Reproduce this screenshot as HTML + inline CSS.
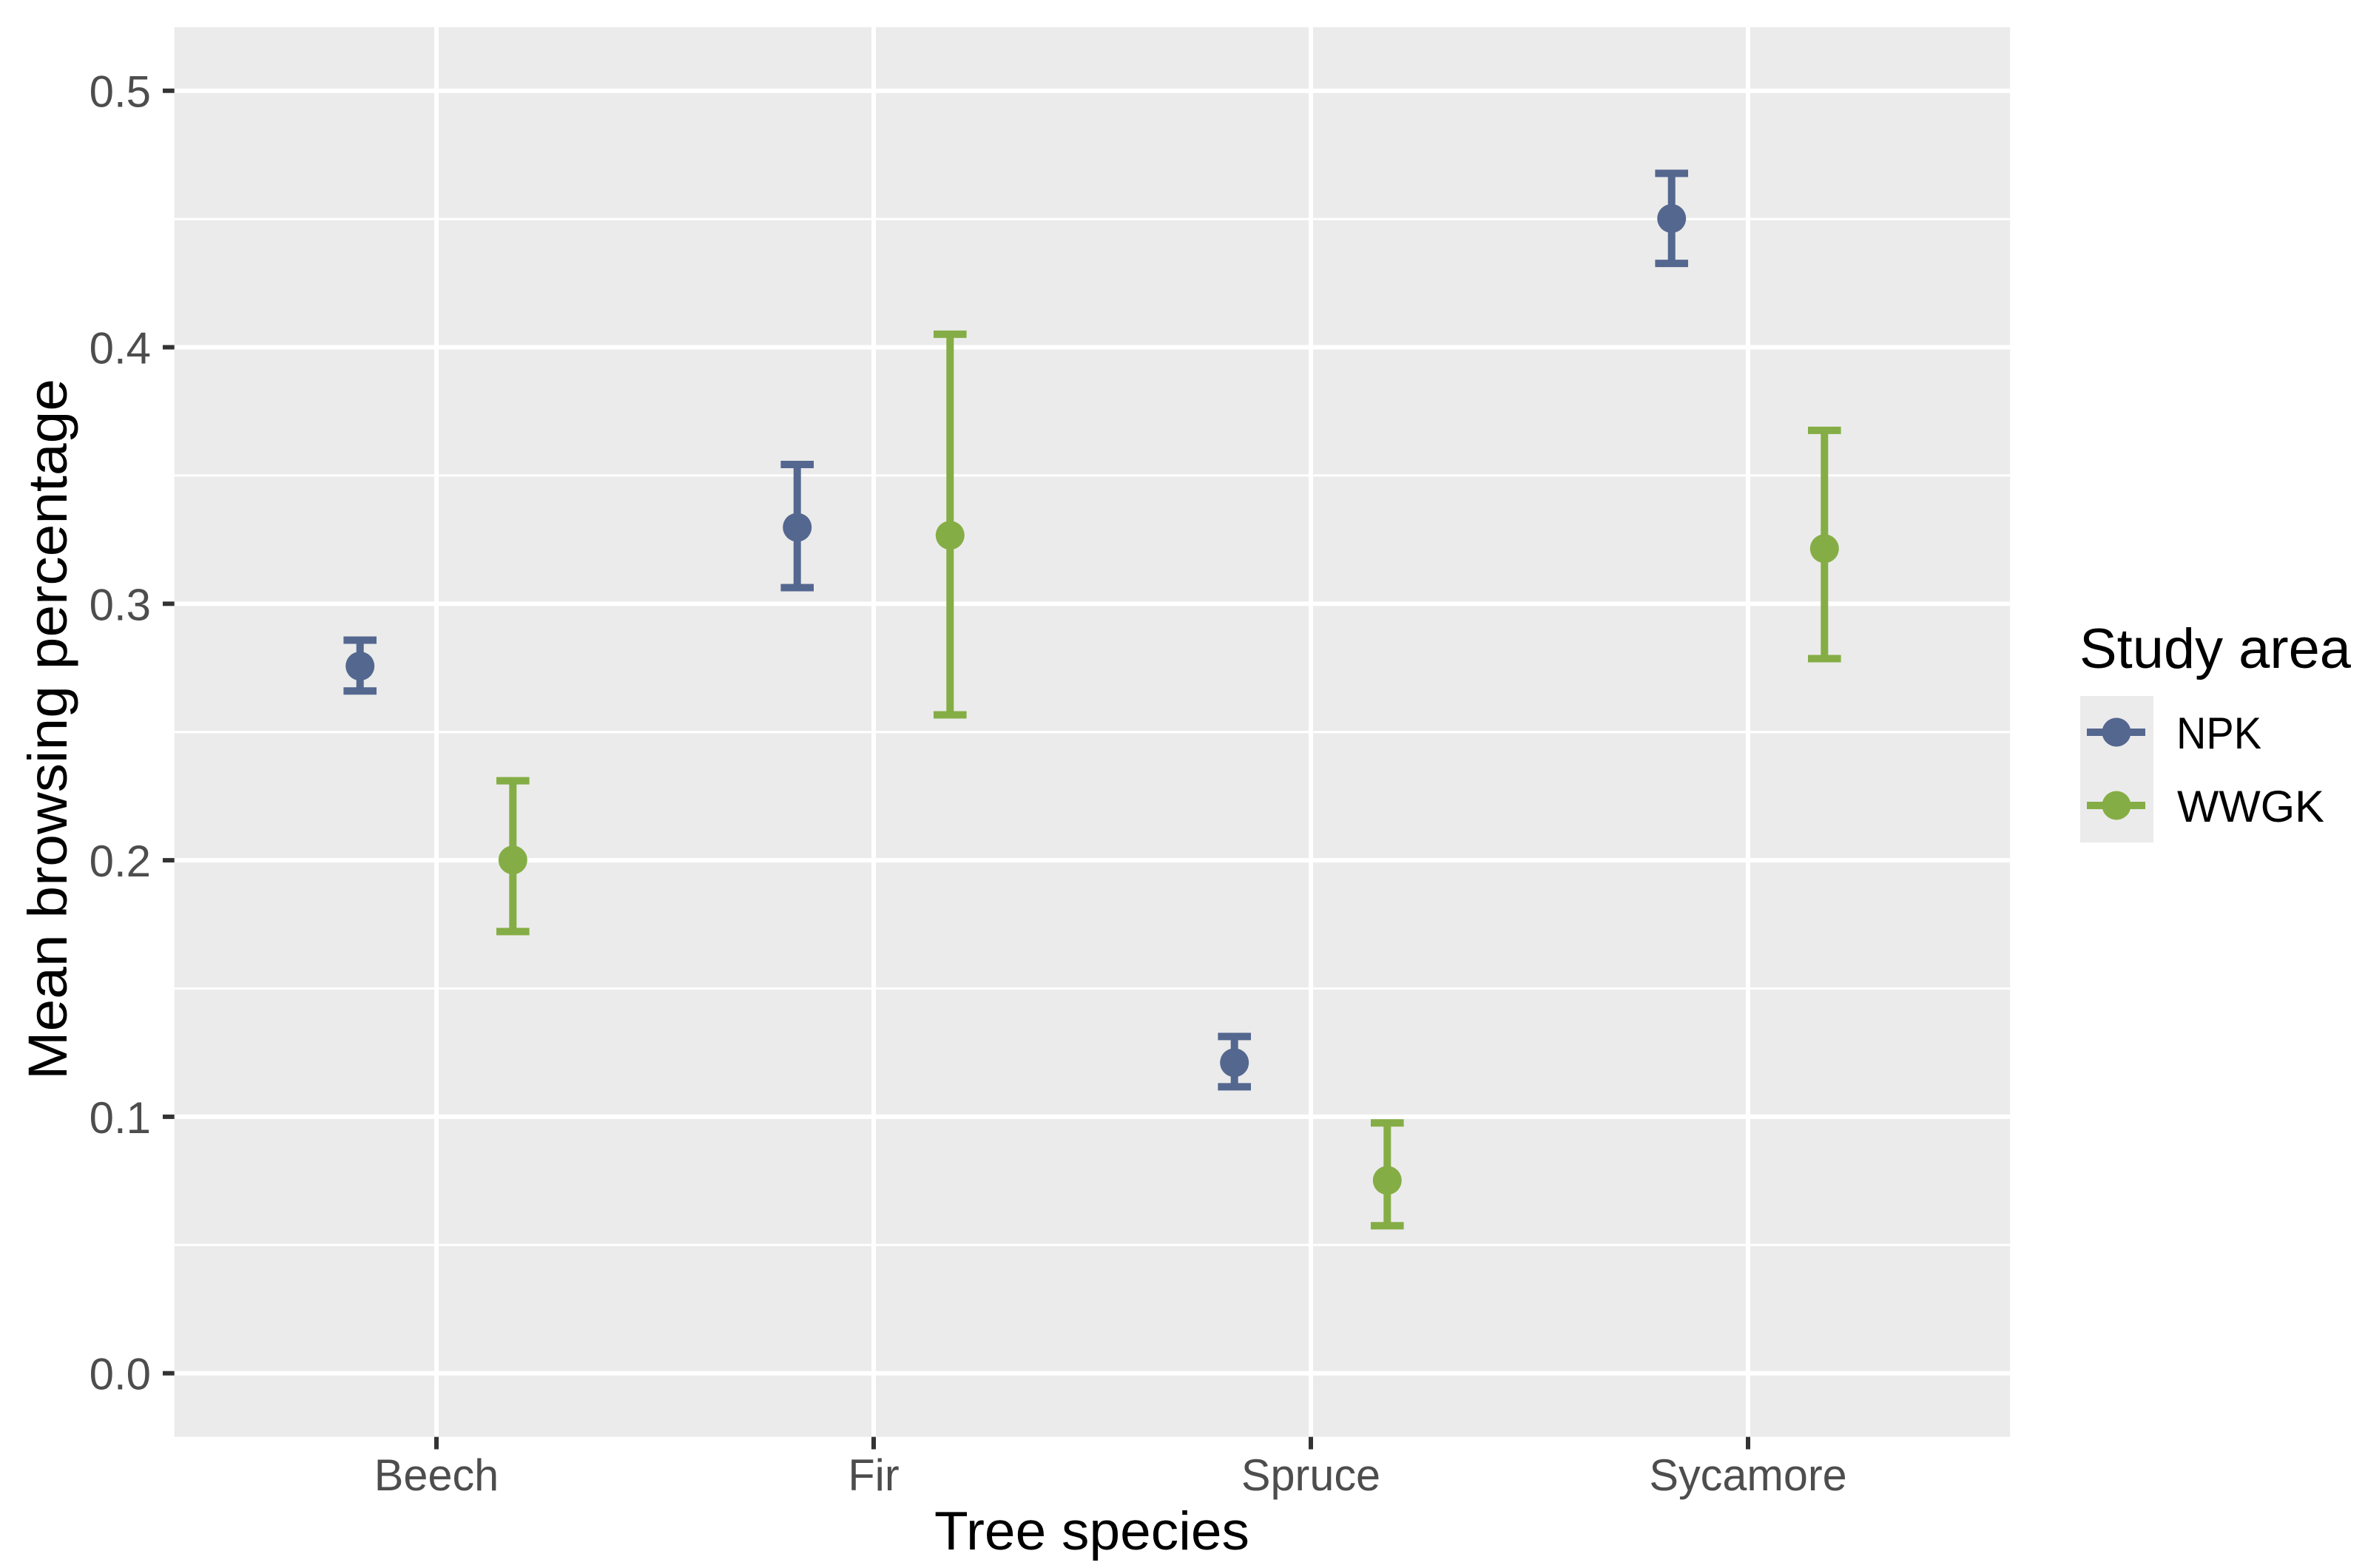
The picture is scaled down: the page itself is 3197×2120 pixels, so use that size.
<!DOCTYPE html>
<html lang="en">
<head>
<meta charset="utf-8">
<title>Mean browsing percentage by tree species</title>
<style>
html,body{margin:0;padding:0;background:#fff;}
svg{display:block;}
text{font-family:"Liberation Sans",sans-serif;}
</style>
</head>
<body>
<svg id="chart" xmlns="http://www.w3.org/2000/svg" width="3197" height="2120" viewBox="0 0 3197 2120">
  <rect x="0" y="0" width="3197" height="2120" fill="#ffffff"/>
  <rect x="235.7" y="36.7" width="2481.6" height="1906" fill="#ebebeb"/>
  <g id="grid"></g>
  <g id="ticks"></g>
  <g id="marks"></g>
  <g id="labels"></g>
  <text x="1263" y="2095" font-size="73" fill="#000" textLength="426" lengthAdjust="spacingAndGlyphs">Tree species</text>
  <text transform="translate(90,1460) rotate(-90)" font-size="74" fill="#000" textLength="948" lengthAdjust="spacingAndGlyphs">Mean browsing percentage</text>
  <g>
    <text x="2811" y="903" font-size="76" fill="#000" textLength="367" lengthAdjust="spacingAndGlyphs">Study area</text>
    <rect x="2812" y="941" width="99" height="198" fill="#ebebeb"/>
    <g>
      <rect x="2821" y="985" width="79" height="10" fill="#54678f"/>
      <circle cx="2861" cy="990" r="19.5" fill="#54678f"/>
      <text x="2942" y="1012" font-size="60" fill="#000" textLength="115" lengthAdjust="spacingAndGlyphs">NPK</text>
    </g>
    <g>
      <rect x="2821" y="1084" width="79" height="10" fill="#85ad45"/>
      <circle cx="2861" cy="1089" r="19.5" fill="#85ad45"/>
      <text x="2943" y="1111" font-size="60" fill="#000" textLength="199" lengthAdjust="spacingAndGlyphs">WWGK</text>
    </g>
  </g>
</svg>
<script>
const categories = ['Beech', 'Fir', 'Spruce', 'Sycamore'];
const yTickValues = [0, 0.1, 0.2, 0.3, 0.4, 0.5];
const yTickLabels = ['0.0', '0.1', '0.2', '0.3', '0.4', '0.5'];
const yMinorValues = [0.05, 0.15, 0.25, 0.35, 0.45];
const npkMean = [0.2757, 0.3298, 0.1211, 0.4502];
const npkUpper = [0.2858, 0.3543, 0.1313, 0.4678];
const npkLower = [0.2660, 0.3063, 0.1117, 0.4327];
const wwgkMean = [0.2001, 0.3267, 0.0752, 0.3215];
const wwgkUpper = [0.2310, 0.4051, 0.0976, 0.3676];
const wwgkLower = [0.1722, 0.2567, 0.0575, 0.2786];

const NS = 'http://www.w3.org/2000/svg';
const PANEL = {left: 235.7, right: 2717.3, top: 36.7, bottom: 1942.7};
function xScale(i) { return 590 + i * 591; }
function yScale(v) { return 1856.7 - 3468 * v; }
function make(tag, parent, attrs) {
  const el = document.createElementNS(NS, tag);
  for (const k in attrs) el.setAttribute(k, attrs[k]);
  parent.appendChild(el);
  return el;
}
const grid = document.getElementById('grid');
const ticks = document.getElementById('ticks');
const marks = document.getElementById('marks');
const labels = document.getElementById('labels');

yMinorValues.forEach(function (v) {
  const line = make('line', grid, {x1: PANEL.left, x2: PANEL.right, y1: yScale(v), y2: yScale(v), stroke: '#ffffff', 'stroke-width': 3});
  
  
});
yTickValues.forEach(function (v, i) {
  const y = yScale(v);
  const line = make('line', grid, {x1: PANEL.left, x2: PANEL.right, y1: y, y2: y, stroke: '#ffffff', 'stroke-width': 6});
  
  
  const tick = make('line', ticks, {x1: 220, x2: PANEL.left, y1: y, y2: y, stroke: '#333333', 'stroke-width': 6});
  
  
  const label = make('text', labels, {x: 204, y: y + 22, 'text-anchor': 'end', 'font-size': 60, fill: '#4d4d4d'});
  
  
  label.textContent = yTickLabels[i];
});
categories.forEach(function (name, i) {
  const x = xScale(i);
  const line = make('line', grid, {x1: x, x2: x, y1: PANEL.top, y2: PANEL.bottom, stroke: '#ffffff', 'stroke-width': 6});
  
  
  const tick = make('line', ticks, {x1: x, x2: x, y1: PANEL.bottom, y2: 1959.5, stroke: '#333333', 'stroke-width': 6});
  
  
  const label = make('text', labels, {transform: 'translate(' + x + ',2015) scale(0.99,1)', 'text-anchor': 'middle', 'font-size': 60, fill: '#4d4d4d'});
  
  
  label.textContent = name;
});

function drawSeries(seriesName, color, offset, means, uppers, lowers) {
  categories.forEach(function (name, i) {
    const x = xScale(i) + offset;
    const g = make('g', marks, {});
    
    
    const stem = make('line', g, {x1: x, x2: x, y1: yScale(uppers[i]), y2: yScale(lowers[i]), stroke: color, 'stroke-width': 10});
    
    
    const capTop = make('line', g, {x1: x - 22.3, x2: x + 22.3, y1: yScale(uppers[i]), y2: yScale(uppers[i]), stroke: color, 'stroke-width': 10});
    
    
    const capBottom = make('line', g, {x1: x - 22.3, x2: x + 22.3, y1: yScale(lowers[i]), y2: yScale(lowers[i]), stroke: color, 'stroke-width': 10});
    
    
    const point = make('circle', g, {cx: x, cy: yScale(means[i]), r: 19.5, fill: color});
    
    
  });
}
drawSeries('npk', '#54678f', -103.3, npkMean, npkUpper, npkLower);
drawSeries('wwgk', '#85ad45', 103.3, wwgkMean, wwgkUpper, wwgkLower);
</script>
</body>
</html>
